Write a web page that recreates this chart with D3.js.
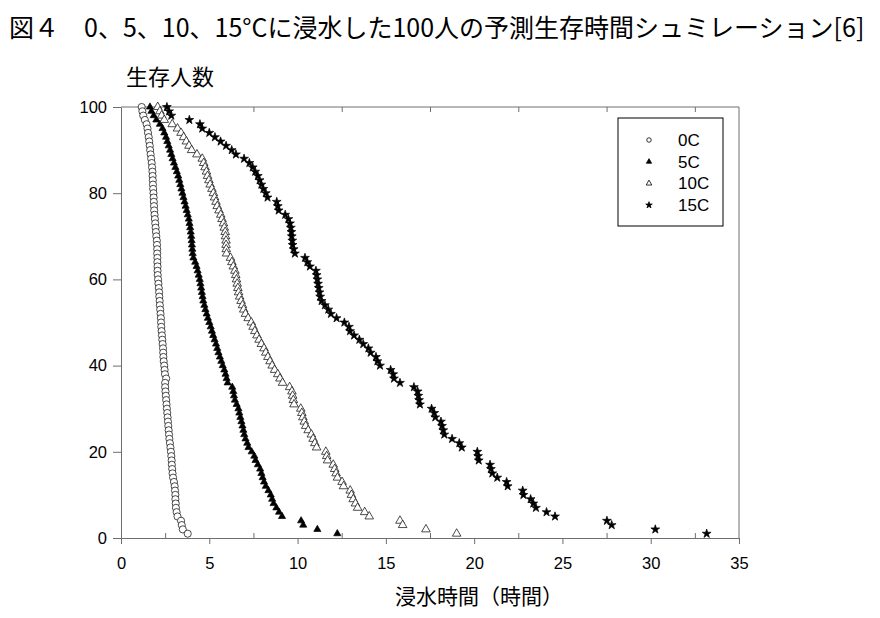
<!DOCTYPE html>
<html>
<head>
<meta charset="utf-8">
<script src="https://cdn.jsdelivr.net/npm/d3@7"></script>
<style>
	body { margin: 0; background: #fff; }
	.tick text { font-family: "Liberation Sans", Arial, sans-serif; font-size: 16.5px; fill: #000; }
	.axis path, .axis line { stroke: #6e6e6e; }
	.jp { font-family: "Noto Sans CJK JP", sans-serif; fill: #000; }
	.legend-text { font-family: "Liberation Sans", Arial, sans-serif; font-size: 17px; }
</style>
</head>
<body>
<svg id="chart" width="880" height="618"></svg>
<script>
// survivors remaining (y) for each simulated person, 100 down to 1
const survivors = [100, 99, 98, 97, 96, 95, 94, 93, 92, 91, 90, 89, 88, 87, 86, 85, 84, 83, 82, 81,
	80, 79, 78, 77, 76, 75, 74, 73, 72, 71, 70, 69, 68, 67, 66, 65, 64, 63, 62, 61,
	60, 59, 58, 57, 56, 55, 54, 53, 52, 51, 50, 49, 48, 47, 46, 45, 44, 43, 42, 41,
	40, 39, 38, 37, 36, 35, 34, 33, 32, 31, 30, 29, 28, 27, 26, 25, 24, 23, 22, 21,
	20, 19, 18, 17, 16, 15, 14, 13, 12, 11, 10, 9, 8, 7, 6, 5, 4, 3, 2, 1];

// immersion time (hours), same order as survivors
const hours0C = [1.17, 1.21, 1.26, 1.35, 1.45, 1.50, 1.53, 1.57, 1.60, 1.63, 1.65, 1.68, 1.71, 1.74, 1.76, 1.78, 1.79, 1.80, 1.81, 1.82,
	1.84, 1.85, 1.86, 1.87, 1.88, 1.90, 1.92, 1.94, 1.96, 1.98, 2.00, 2.03, 2.04, 2.05, 2.05, 2.06, 2.06, 2.07, 2.07, 2.08,
	2.10, 2.12, 2.14, 2.16, 2.17, 2.19, 2.20, 2.22, 2.24, 2.26, 2.27, 2.28, 2.30, 2.32, 2.34, 2.36, 2.38, 2.39, 2.40, 2.42,
	2.45, 2.47, 2.49, 2.56, 2.50, 2.50, 2.52, 2.54, 2.56, 2.58, 2.60, 2.62, 2.64, 2.66, 2.68, 2.70, 2.72, 2.74, 2.77, 2.80,
	2.83, 2.85, 2.87, 2.88, 2.90, 2.92, 2.95, 3.00, 3.04, 3.06, 3.08, 3.08, 3.10, 3.11, 3.15, 3.20, 3.40, 3.44, 3.50, 3.78];

const hours5C = [1.64, 1.72, 1.85, 2.00, 2.20, 2.35, 2.45, 2.55, 2.62, 2.70, 2.78, 2.85, 2.92, 3.00, 3.08, 3.16, 3.24, 3.30, 3.36, 3.42,
	3.48, 3.54, 3.60, 3.66, 3.72, 3.78, 3.84, 3.88, 3.92, 3.95, 3.98, 4.00, 4.02, 4.04, 4.06, 4.10, 4.20, 4.28, 4.34, 4.40,
	4.46, 4.50, 4.54, 4.58, 4.62, 4.66, 4.72, 4.78, 4.85, 4.92, 5.00, 5.08, 5.15, 5.22, 5.30, 5.38, 5.45, 5.52, 5.60, 5.68,
	5.76, 5.85, 5.92, 5.98, 6.04, 6.30, 6.36, 6.40, 6.45, 6.55, 6.65, 6.70, 6.76, 6.82, 6.88, 6.93, 6.98, 7.05, 7.15, 7.22,
	7.40, 7.55, 7.62, 7.75, 7.88, 7.95, 8.02, 8.10, 8.20, 8.35, 8.48, 8.56, 8.64, 8.80, 8.95, 9.12, 10.20, 10.32, 11.12, 12.25];

const hours10C = [2.08, 2.20, 2.30, 2.45, 2.90, 3.20, 3.40, 3.55, 3.70, 3.85, 4.00, 4.30, 4.60, 4.68, 4.76, 4.84, 4.90, 4.98, 5.05, 5.15,
	5.23, 5.30, 5.38, 5.45, 5.55, 5.65, 5.72, 5.80, 5.85, 5.90, 5.92, 5.95, 5.95, 5.96, 5.98, 6.20, 6.28, 6.36, 6.45, 6.50,
	6.54, 6.58, 6.62, 6.66, 6.72, 6.80, 6.88, 6.95, 7.05, 7.20, 7.38, 7.48, 7.58, 7.70, 7.82, 7.95, 8.10, 8.20, 8.32, 8.44,
	8.56, 8.70, 8.88, 9.00, 9.15, 9.55, 9.68, 9.72, 9.76, 9.80, 10.18, 10.24, 10.30, 10.38, 10.46, 10.60, 10.78, 10.88, 10.98, 11.08,
	11.60, 11.65, 11.70, 12.02, 12.10, 12.18, 12.26, 12.52, 12.60, 12.98, 13.05, 13.15, 13.28, 13.40, 13.80, 14.06, 15.80, 15.95, 17.27, 19.01];

const hours15C = [2.60, 2.72, 2.85, 3.87, 4.47, 4.60, 5.00, 5.32, 5.64, 5.95, 6.27, 6.51, 6.97, 7.27, 7.46, 7.60, 7.75, 7.85, 7.95, 8.06,
	8.20, 8.30, 8.82, 8.88, 8.93, 9.30, 9.48, 9.57, 9.62, 9.65, 9.67, 9.70, 9.72, 9.78, 9.85, 10.42, 10.55, 10.70, 11.04, 11.08,
	11.12, 11.16, 11.20, 11.24, 11.28, 11.36, 11.55, 11.74, 11.89, 12.21, 12.65, 12.91, 12.97, 13.20, 13.50, 13.72, 14.01, 14.14, 14.44, 14.52,
	14.67, 15.27, 15.42, 15.46, 15.80, 16.59, 16.80, 16.84, 16.88, 16.93, 17.59, 17.74, 17.80, 18.12, 18.18, 18.25, 18.31, 18.75, 19.16, 19.30,
	20.18, 20.22, 20.26, 20.90, 20.95, 21.03, 21.31, 21.84, 21.90, 22.75, 22.79, 23.20, 23.35, 23.50, 24.10, 24.58, 27.52, 27.79, 30.26, 33.17];

const seriesNames = ["0C", "5C", "10C", "15C"];
const xTicks = [0, 5, 10, 15, 20, 25, 30, 35];
const xMinorTicks = [2.5, 7.5, 12.5, 17.5, 22.5, 27.5, 32.5];
const xTopTicks = [7.5, 12.5, 17.5, 22.5, 27.5, 32.5];
const yTicks = [0, 20, 40, 60, 80, 100];

const width = 880;
const height = 618;
const margin = {
	top: 107,
	right: 141,
	bottom: 80,
	left: 121
};

// marker style per series
const markers = [
	{ type: d3.symbolCircle, size: 40, legendSize: 16, fill: "#fff", stroke: "#000" },
	{ type: d3.symbolTriangle, size: 22, legendSize: 12, fill: "#000", stroke: "#000" },
	{ type: d3.symbolTriangle, size: 32, legendSize: 14, fill: "#fff", stroke: "#000" },
	{ type: d3.symbolStar, size: 24, legendSize: 13, fill: "#000", stroke: "#000" }
];

const allHours = [hours0C, hours5C, hours10C, hours15C];

const svg = d3.select("#chart");

const x = d3.scaleLinear()
	.domain([0, 35])
	.range([margin.left, width - margin.right]);

const y = d3.scaleLinear()
	.domain([0, 100])
	.range([height - margin.bottom, margin.top]);

// frame: top and right
svg.append("line")
	.attr("x1", x(0)).attr("x2", x(35))
	.attr("y1", y(100)).attr("y2", y(100))
	.attr("stroke", "#6e6e6e");
svg.append("line")
	.attr("x1", x(35)).attr("x2", x(35))
	.attr("y1", y(100)).attr("y2", y(0))
	.attr("stroke", "#6e6e6e");

// top frame ticks point inward
svg.append("g")
	.attr("class", "axis")
	.attr("transform", `translate(0,${y(100)})`)
	.call(d3.axisTop(x).tickValues(xTopTicks).tickSize(-5).tickFormat(""))
	.call(g => g.select(".domain").remove());

// minor x ticks point inward
svg.append("g")
	.attr("class", "axis")
	.attr("transform", `translate(0,${y(0)})`)
	.call(d3.axisBottom(x).tickValues(xMinorTicks).tickSize(-5).tickFormat(""))
	.call(g => g.select(".domain").remove());

// x axis
svg.append("g")
	.attr("class", "axis")
	.attr("transform", `translate(0,${y(0)})`)
	.call(d3.axisBottom(x).tickValues(xTicks).tickSize(6).tickPadding(13).tickSizeOuter(0));

// y axis
svg.append("g")
	.attr("class", "axis")
	.attr("transform", `translate(${x(0)},0)`)
	.call(d3.axisLeft(y).tickValues(yTicks).tickSize(8).tickPadding(6).tickSizeOuter(0));

// points
allHours.forEach((hours, i) => {
	const m = markers[i];
	svg.append("g")
		.attr("class", `series-${seriesNames[i]}`)
		.selectAll("path")
		.data(hours.map((h, j) => ({ h, n: survivors[j] })))
		.join("path")
		.attr("transform", d => `translate(${x(d.h)},${y(d.n)})`)
		.attr("d", d3.symbol().type(m.type).size(m.size))
		.attr("fill", m.fill)
		.attr("stroke", m.stroke)
		.attr("stroke-width", 0.7);
});

// legend
const legend = svg.append("g").attr("class", "legend");
legend.append("rect")
	.attr("x", 618).attr("y", 118)
	.attr("width", 105).attr("height", 108)
	.attr("fill", "#fff")
	.attr("stroke", "#000")
	.attr("stroke-width", 1);

seriesNames.forEach((name, i) => {
	const m = markers[i];
	const cy = 140 + i * 21.7;
	legend.append("path")
		.attr("transform", `translate(649,${cy})`)
		.attr("d", d3.symbol().type(m.type).size(m.legendSize))
		.attr("fill", m.fill)
		.attr("stroke", m.stroke)
		.attr("stroke-width", 0.8);
	legend.append("text")
		.attr("class", "legend-text")
		.attr("x", 678)
		.attr("y", cy + 6)
		.text(name);
});

// titles
svg.append("text")
	.attr("class", "jp")
	.attr("x", 9)
	.attr("y", 37)
	.attr("font-size", 25)
	.text("図４　0、5、10、15°Cに浸水した100人の予測生存時間シュミレーション[6]");

svg.append("text")
	.attr("class", "jp")
	.attr("x", 126)
	.attr("y", 85)
	.attr("font-size", 22)
	.text("生存人数");

svg.append("text")
	.attr("class", "jp")
	.attr("x", 395)
	.attr("y", 604)
	.attr("font-size", 21)
	.text("浸水時間（時間）");
</script>
</body>
</html>
